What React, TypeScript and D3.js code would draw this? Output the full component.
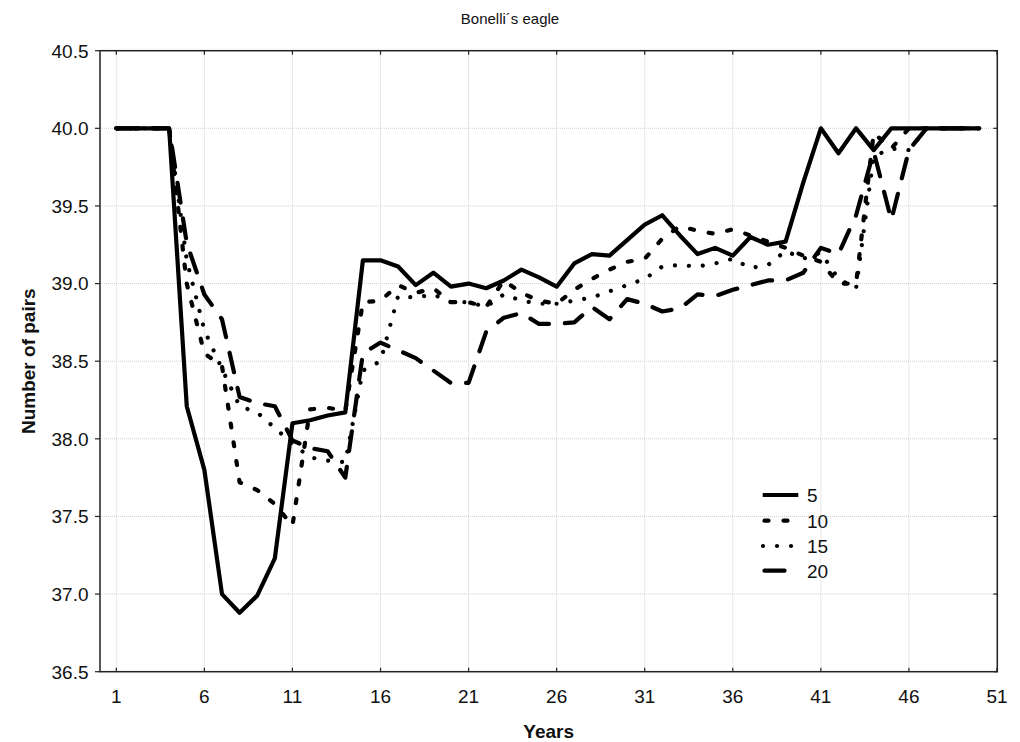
import React from "react";
import * as d3 from "d3";

const years = [1,2,3,4,5,6,7,8,9,10,11,12,13,14,15,16,17,18,19,20,21,22,23,24,25,26,27,28,29,30,31,32,33,34,35,36,37,38,39,40,41,42,43,44,45,46,47,48,49,50];

const s5 = [40,40,40,40,38.21,37.80,37.00,36.88,36.99,37.23,38.10,38.12,38.15,38.17,39.15,39.15,39.11,38.99,39.07,38.98,39.00,38.97,39.02,39.09,39.04,38.98,39.13,39.19,39.18,39.28,39.38,39.44,39.31,39.19,39.23,39.18,39.30,39.25,39.27,39.65,40.00,39.84,40.00,39.86,40,40,40,40,40,40];
const s10 = [40,40,40,40,39.00,38.55,38.47,37.72,37.67,37.58,37.44,38.19,38.20,38.18,38.88,38.89,38.99,38.94,38.97,38.88,38.88,38.85,39.02,38.94,38.89,38.87,38.96,39.03,39.09,39.14,39.16,39.29,39.37,39.34,39.32,39.35,39.31,39.27,39.23,39.18,39.14,39.00,39.00,39.97,39.87,40,40,40,40,40];
const s15 = [40,40,40,40,39.15,38.70,38.45,38.21,38.17,38.07,37.97,37.88,37.86,37.85,38.44,38.50,38.92,38.91,38.93,38.88,38.88,38.85,38.93,38.89,38.87,38.87,38.89,38.91,38.95,38.99,39.03,39.11,39.12,39.11,39.13,39.16,39.10,39.12,39.21,39.16,39.20,39.03,38.97,39.82,39.87,39.86,40,40,40,40];
const s20 = [40,40,40,40,39.26,38.93,38.77,38.27,38.23,38.21,37.99,37.94,37.92,37.75,38.55,38.62,38.57,38.52,38.44,38.36,38.36,38.69,38.78,38.81,38.74,38.74,38.75,38.85,38.77,38.90,38.87,38.82,38.84,38.93,38.92,38.96,38.99,39.02,39.02,39.07,39.23,39.19,39.44,39.85,39.41,39.86,40,40,40,40];

const seriesNames = ["5", "10", "15", "20"];
const seriesValues = [s5, s10, s15, s20];

const xTicks = [1, 6, 11, 16, 21, 26, 31, 36, 41, 46, 51];
const yTicks = [36.5, 37.0, 37.5, 38.0, 38.5, 39.0, 39.5, 40.0, 40.5];

const titleText = "Bonelli\u00b4s eagle";
const xTitle = "Years";
const yTitle = "Number of pairs";

const W = 1020;
const H = 742;
const frame = { left: 100, top: 50.7, right: 997.3, bottom: 671.7 };
const FONT = "'Liberation Sans', Arial, Helvetica, sans-serif";

const styles = [
  { dash: undefined, cap: "butt" },
  { dash: "4 15", cap: "round" },
  { dash: "0.01 14", cap: "round" },
  { dash: "20 16", cap: "round" },
];

export default function App() {
  const x = d3.scaleLinear().domain([1, 51]).range([116.3, 997.0]);
  const y = d3.scaleLinear().domain([36.5, 40.5]).range([frame.bottom, frame.top]);

  const line = d3
    .line<number>()
    .x((_, i) => x(years[i]))
    .y((v) => y(v));

  const legendX0 = 763;
  const legendX1 = 797;
  const legendRows = [495, 520.7, 546, 570.7];

  return (
    <svg
      width={W}
      height={H}
      style={{ position: "absolute", left: 0, top: 0, background: "#fff" }}
      fontFamily={FONT}
    >
      <rect x={0} y={0} width={W} height={H} fill="#fff" />
      {/* grid */}
      {xTicks.map((t) => (
        <line
          key={"gx" + t}
          x1={x(t)}
          x2={x(t)}
          y1={frame.top}
          y2={frame.bottom}
          stroke="#cfcfcf"
          strokeWidth={1}
          strokeDasharray="1 1"
        />
      ))}
      {yTicks.map((t) => (
        <line
          key={"gy" + t}
          x1={frame.left}
          x2={frame.right}
          y1={y(t)}
          y2={y(t)}
          stroke="#cfcfcf"
          strokeWidth={1}
          strokeDasharray="1 1"
        />
      ))}

      {/* data lines */}
      <g clipPath="url(#plotclip)">
        {seriesValues.map((vals, i) => (
          <path
            key={"s" + i}
            d={line(vals) || ""}
            fill="none"
            stroke="#000"
            strokeWidth={4.2}
            strokeLinejoin="round"
            strokeLinecap={styles[i].cap as any}
            strokeDasharray={styles[i].dash}
          />
        ))}
      </g>
      <defs>
        <clipPath id="plotclip">
          <rect x={frame.left} y={frame.top - 4} width={frame.right - frame.left} height={frame.bottom - frame.top + 4} />
        </clipPath>
      </defs>

      {/* frame */}
      <rect
        x={frame.left}
        y={frame.top}
        width={frame.right - frame.left}
        height={frame.bottom - frame.top}
        fill="none"
        stroke="#222"
        strokeWidth={1.5}
      />
      {/* ticks */}
      {xTicks.map((t) => (
        <g key={"tx" + t}>
          <line x1={x(t)} x2={x(t)} y1={frame.bottom} y2={frame.bottom - 4} stroke="#222" strokeWidth={1.2} />
          <line x1={x(t)} x2={x(t)} y1={frame.top} y2={frame.top + 4} stroke="#222" strokeWidth={1.2} />
          <text x={x(t)} y={frame.bottom + 31} textAnchor="middle" fontSize={19} fill="#111">
            {t}
          </text>
        </g>
      ))}
      {yTicks.map((t) => (
        <g key={"ty" + t}>
          <line x1={frame.left - 5} x2={frame.left} y1={y(t)} y2={y(t)} stroke="#222" strokeWidth={1.2} />
          <line x1={frame.right - 4} x2={frame.right} y1={y(t)} y2={y(t)} stroke="#222" strokeWidth={1.2} />
          <text x={88.5} y={y(t)} dy="0.36em" textAnchor="end" fontSize={19} fill="#111">
            {t.toFixed(1)}
          </text>
        </g>
      ))}

      {/* titles */}
      <text x={510} y={24} textAnchor="middle" fontSize={15} fill="#111">
        {titleText}
      </text>
      <text x={(frame.left + frame.right) / 2} y={738} textAnchor="middle" fontSize={19} fontWeight="bold" fill="#111">
        {xTitle}
      </text>
      <text
        transform={`translate(35, ${(frame.top + frame.bottom) / 2}) rotate(-90)`}
        textAnchor="middle"
        fontSize={19}
        fontWeight="bold"
        fill="#111"
      >
        {yTitle}
      </text>

      {/* legend */}
      {seriesNames.map((name, i) => (
        <g key={"lg" + i}>
          <line
            x1={i === 0 ? 762.7 : legendX0 + (i === 2 ? 0 : 1.5)}
            x2={i === 0 ? 798.3 : legendX1}
            y1={legendRows[i]}
            y2={legendRows[i]}
            stroke="#000"
            strokeWidth={4.2}
            strokeLinecap={styles[i].cap as any}
            strokeDasharray={styles[i].dash}
          />
          <text x={807} y={legendRows[i]} dy="0.36em" fontSize={19} fill="#111">
            {name}
          </text>
        </g>
      ))}
    </svg>
  );
}
